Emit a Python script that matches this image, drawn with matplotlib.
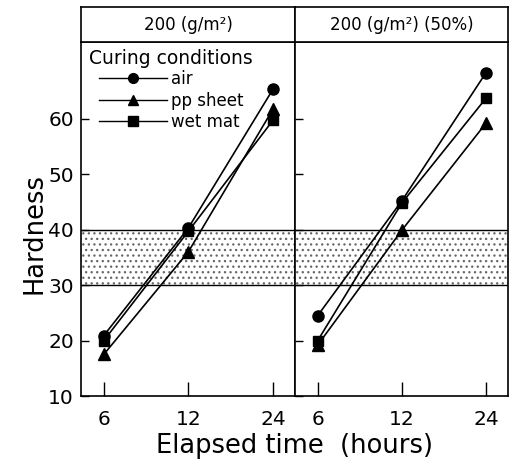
import matplotlib
matplotlib.use("Agg")
import matplotlib.pyplot as plt

plt.rcParams['font.family'] = ['DejaVu Sans']
plt.rcParams['hatch.linewidth'] = 0.9

# data
times = ['6', '12', '24']
panels = ['200 (g/m\u00b2)', '200 (g/m\u00b2) (50%)']
conditions = ['air', 'pp sheet', 'wet mat']
markers = ['o', '^', 's']
msizes = [8, 9, 7.5]

air_left = [20.9, 40.3, 65.3]
pp_left = [17.5, 36.0, 61.7]
wet_left = [20.0, 39.7, 59.7]

air_right = [24.5, 45.2, 68.3]
pp_right = [19.2, 39.9, 59.2]
wet_right = [20.0, 44.8, 63.7]

band_low, band_high = 30, 40

fig = plt.figure(figsize=(5.16, 4.62), dpi=100)

W, H = 516, 462
left_px, right_px, div_px = 81, 508, 295
top_px, bot_px, head_top = 42, 396, 7

def box(x0, x1, y0, y1):
    return [x0 / W, 1 - y1 / H, (x1 - x0) / W, (y1 - y0) / H]

ax1 = fig.add_axes(box(left_px, div_px, top_px, bot_px))
ax2 = fig.add_axes(box(div_px, right_px, top_px, bot_px))
h1 = fig.add_axes(box(left_px, div_px, head_top, top_px))
h2 = fig.add_axes(box(div_px, right_px, head_top, top_px))

data = [(ax1, [air_left, pp_left, wet_left]), (ax2, [air_right, pp_right, wet_right])]
x = range(len(times))

for ax, series in data:
    # shaded 30-40 band with stipple
    ax.axhspan(band_low, band_high, facecolor='white', edgecolor='#666666',
               hatch='...', linewidth=0, zorder=0)
    ax.axhline(band_low, color='black', lw=1.0, zorder=1)
    ax.axhline(band_high, color='black', lw=1.0, zorder=1)
    for vals, m, ms, lab in zip(series, markers, msizes, conditions):
        ax.plot(x, vals, color='black', lw=1.2, marker=m, markersize=ms, label=lab, zorder=3)
    ax.set_xlim(-0.27, 2.26)
    ax.set_ylim(10, 73.8)
    ax.set_xticks(list(x))
    ax.set_xticklabels(times, fontsize=14.5)
    ax.set_yticks([10, 20, 30, 40, 50, 60])
    ax.tick_params(axis='x', direction='in', length=10, width=1, pad=10)
    ax.tick_params(axis='y', direction='in', length=6, width=1, labelsize=14.5, pad=5)
    for s in ax.spines.values():
        s.set_linewidth(1.2)

ax2.tick_params(axis='y', labelleft=False)
fig.text(34 / W, 1 - 234 / H, 'Hardness', rotation=90, ha='center', va='center', fontsize=18.5)
fig.text((left_px + right_px) / 2 / W, 1 - 453 / H, 'Elapsed time  (hours)',
         ha='center', va='baseline', fontsize=18.5)

for h, t in zip([h1, h2], panels):
    h.set_xticks([])
    h.set_yticks([])
    for s in h.spines.values():
        s.set_linewidth(1.2)
    h.text(0.5, 0.48, t, ha='center', va='center', fontsize=12, transform=h.transAxes)

fig.text(89 / W, 1 - 58 / H, 'Curing conditions', ha='left', va='center', fontsize=13.5)
leg = ax1.legend(loc='upper left', bbox_to_anchor=(99 / W, 1 - 70 / H),
                 bbox_transform=fig.transFigure, frameon=False, fontsize=12,
                 handlelength=4.1, handletextpad=0.2, labelspacing=0.22,
                 borderpad=0, borderaxespad=0)
for line in leg.get_lines():
    line.set_linewidth(1.0)
    line.set_markersize(7)

fig.savefig('out.png', dpi=100)
